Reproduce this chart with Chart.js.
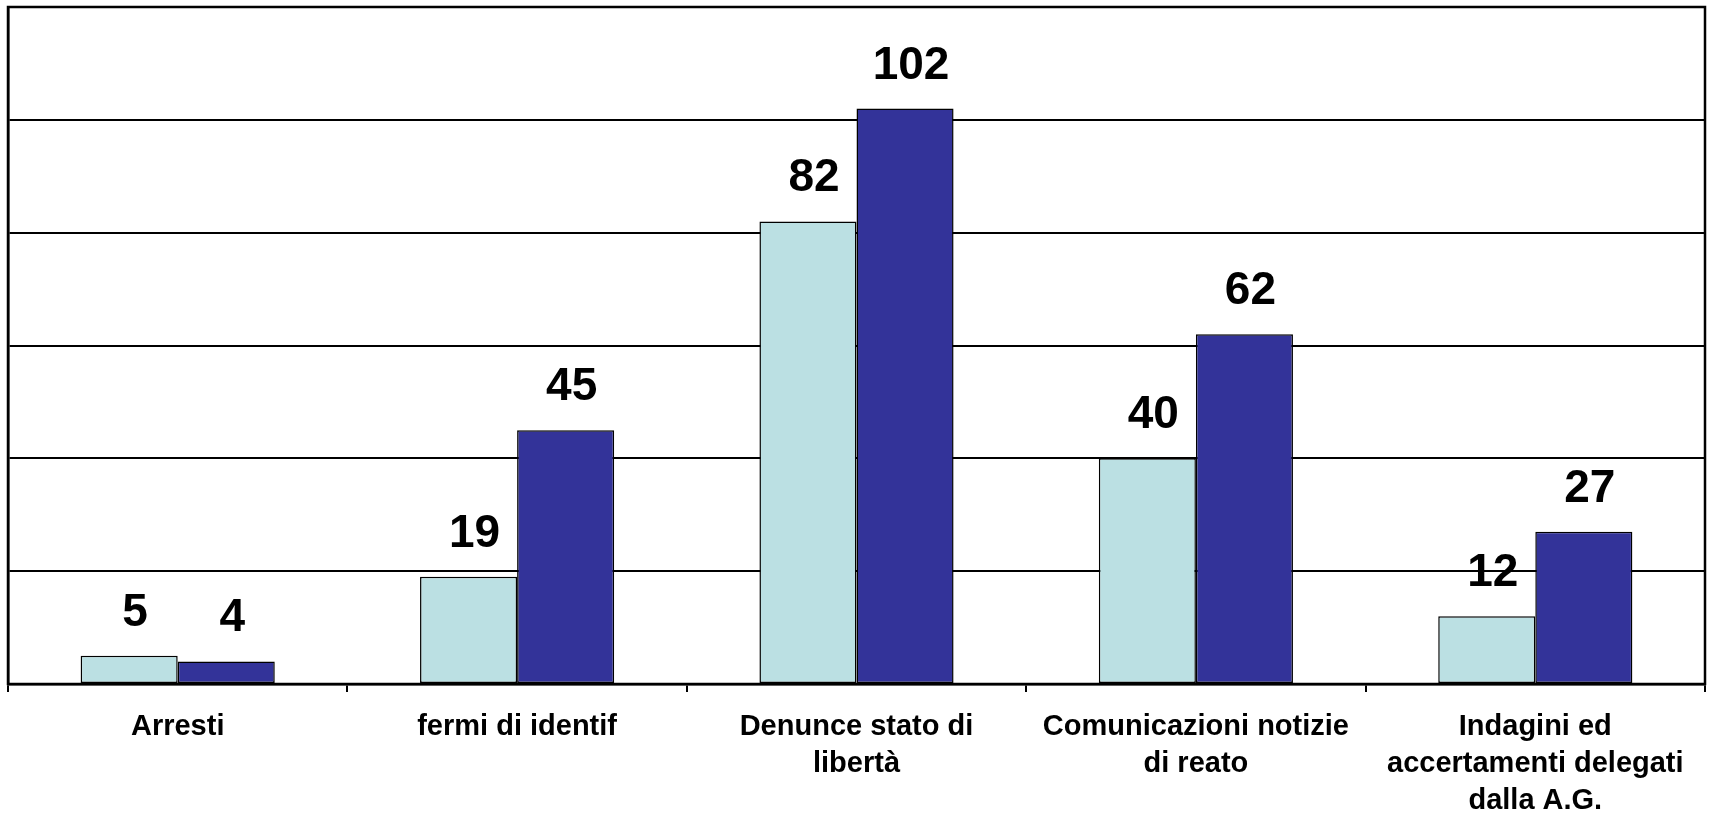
<!DOCTYPE html>
<html>
<head>
<meta charset="utf-8">
<script src="https://cdn.jsdelivr.net/npm/chart.js@4"></script>
<style>
  body { margin: 0; background: #fff; }
  canvas { display: block; }
</style>
</head>
<body>
<canvas id="chart" width="1712" height="815"></canvas>
<script>
// Categories and series values
const categories = [
    ['Arresti'],
    ['fermi di identif'],
    ['Denunce stato di', 'libertà'],
    ['Comunicazioni notizie', 'di reato'],
    ['Indagini ed', 'accertamenti delegati', 'dalla A.G.']
];
const seriesA = [5, 19, 82, 40, 12];
const seriesB = [4, 45, 102, 62, 27];
const yTicks = [0, 20, 40, 60, 80, 100, 120];

// Box round the plot area
const frame = {
    id: 'frame',
    afterDraw(chart) {
        const { ctx, chartArea } = chart;
        ctx.save();
        ctx.strokeStyle = '#000';
        ctx.lineWidth = 2.5;
        ctx.strokeRect(chartArea.left, chartArea.top, chartArea.right - chartArea.left, chartArea.bottom - chartArea.top);
        ctx.restore();
    }
};

// Value labels above each bar
const valueLabels = {
    id: 'valueLabels',
    afterDatasetsDraw(chart) {
        const ctx = chart.ctx;
        ctx.save();
        ctx.font = 'bold 46px "Liberation Sans", Arial, sans-serif';
        ctx.fillStyle = '#000';
        ctx.textAlign = 'center';
        ctx.textBaseline = 'alphabetic';
        chart.data.datasets.forEach((ds, i) => {
            chart.getDatasetMeta(i).data.forEach((bar, j) => {
                ctx.fillText(ds.data[j], bar.x + 6, bar.y - 30);
            });
        });
        ctx.restore();
    }
};

new Chart(document.getElementById('chart'), {
    type: 'bar',
    data: {
        labels: categories,
        datasets: [
            {
                label: 'Serie 1',
                data: seriesA,
                backgroundColor: '#BBE0E3',
                borderColor: '#000',
                borderWidth: 1.5,
                borderSkipped: false
            },
            {
                label: 'Serie 2',
                data: seriesB,
                backgroundColor: '#333399',
                borderColor: '#000',
                borderWidth: 1.5,
                borderSkipped: false
            }
        ]
    },
    options: {
        responsive: false,
        animation: false,
        layout: { padding: { left: 8, top: 7, right: 7, bottom: 0 } },
        datasets: {
            bar: { categoryPercentage: 0.572, barPercentage: 1 }
        },
        plugins: {
            legend: { display: false },
            tooltip: { enabled: false }
        },
        scales: {
            x: {
                offset: true,
                afterFit(axis) {
                    axis.height = 131;
                },
                grid: {
                    offset: true,
                    drawOnChartArea: false,
                    drawTicks: true,
                    tickLength: 8,
                    color: '#000',
                    lineWidth: 2
                },
                border: { display: true, color: '#000', width: 2.5 },
                ticks: {
                    color: '#000',
                    padding: 16,
                    maxRotation: 0,
                    autoSkip: false,
                    font: { family: '"Liberation Sans", Arial, sans-serif', size: 29, weight: 'bold', lineHeight: 1.28 }
                }
            },
            y: {
                min: 0,
                max: 120,
                afterBuildTicks(axis) {
                    axis.ticks = yTicks.map(v => ({ value: v }));
                },
                grid: {
                    color: '#000',
                    lineWidth: 2,
                    drawTicks: false
                },
                border: { display: true, color: '#000', width: 2.5 },
                ticks: { display: false }
            }
        }
    },
    plugins: [frame, valueLabels]
});
</script>
</body>
</html>
